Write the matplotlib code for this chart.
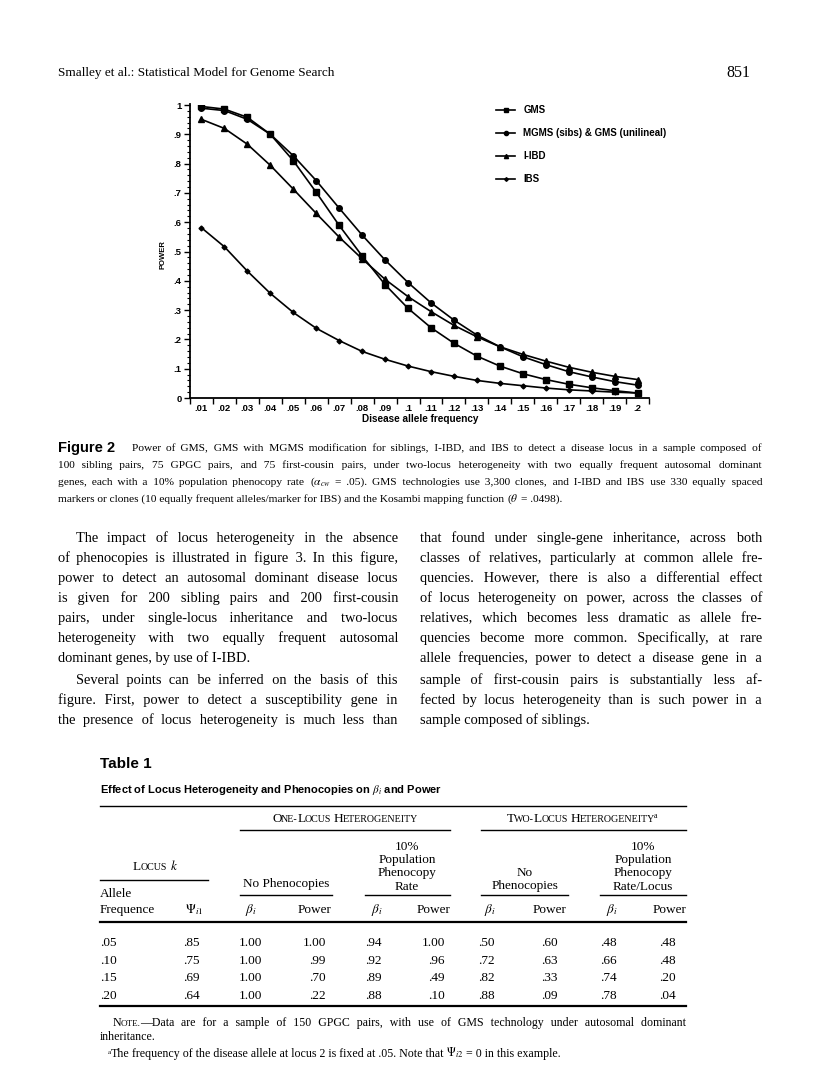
import matplotlib
matplotlib.use("Agg")
import matplotlib.pyplot as plt
import numpy as np
from matplotlib.lines import Line2D

plt.rcParams['mathtext.fontset'] = 'stix'

# ---- chart data ----
freq = [.01, .02, .03, .04, .05, .06, .07, .08, .09, .10,
        .11, .12, .13, .14, .15, .16, .17, .18, .19, .20]
freq_labels = ['.01', '.02', '.03', '.04', '.05', '.06', '.07', '.08', '.09', '.1',
               '.11', '.12', '.13', '.14', '.15', '.16', '.17', '.18', '.19', '.2']
gms = [0.995, 0.986, 0.958, 0.900, 0.810, 0.702, 0.589, 0.485, 0.387, 0.306,
       0.240, 0.187, 0.143, 0.109, 0.083, 0.063, 0.047, 0.035, 0.025, 0.017]
mgms = [0.989, 0.981, 0.951, 0.900, 0.827, 0.742, 0.648, 0.556, 0.471, 0.394,
        0.325, 0.266, 0.215, 0.175, 0.141, 0.114, 0.090, 0.072, 0.056, 0.044]
iibd = [0.951, 0.920, 0.866, 0.794, 0.713, 0.630, 0.549, 0.475, 0.405, 0.346,
        0.295, 0.248, 0.209, 0.175, 0.149, 0.126, 0.105, 0.088, 0.074, 0.063]
ibs = [0.581, 0.516, 0.433, 0.357, 0.292, 0.238, 0.196, 0.159, 0.132, 0.109,
       0.090, 0.074, 0.060, 0.050, 0.042, 0.034, 0.028, 0.024, 0.020, 0.017]
y_labels = ['0', '.1', '.2', '.3', '.4', '.5', '.6', '.7', '.8', '.9', '1']

# ---- table data ----
allele_freq = ['.05', '.10', '.15', '.20']
psi_i1 = ['.85', '.75', '.69', '.64']
beta_one_nophen = ['1.00', '1.00', '1.00', '1.00']
power_one_nophen = ['1.00', '.99', '.70', '.22']
beta_one_phen = ['.94', '.92', '.89', '.88']
power_one_phen = ['1.00', '.96', '.49', '.10']
beta_two_nophen = ['.50', '.72', '.82', '.88']
power_two_nophen = ['.60', '.63', '.33', '.09']
beta_two_phen = ['.48', '.66', '.74', '.78']
power_two_phen = ['.48', '.48', '.20', '.04']

W, H = 816, 1081
fig = plt.figure(figsize=(W / 100, H / 100), dpi=100)
fig.patch.set_facecolor('white')
R = fig.canvas.get_renderer()

SERIF = ['Liberation Serif', 'DejaVu Serif']
SANS = 'Liberation Sans'
HAIR = '\u200a'


def fx(x):
    return x / W


def fy(y):
    return 1 - y / H


def measure(s, size, family=SERIF):
    t = fig.text(0, 0, s, fontsize=size, family=family)
    w = t.get_window_extent(R).width
    t.remove()
    return w


def advance(s, size, family=SERIF):
    # advance width, side bearings included
    if '$' in s:
        return measure(s, size, family)
    return measure('x' + s + 'x', size, family) - measure('xx', size, family)


def smallcaps(word, size):
    runs = []
    for ch in word:
        if ch.isalpha():
            low = ch.islower()
            c = ch.upper() if low else ch
            sz = size * 0.76 if low else size
        else:
            c = ch
            sz = runs[-1][1] if runs else size
        if runs and runs[-1][1] == sz:
            runs[-1] = (runs[-1][0] + c, sz, 0)
        else:
            runs.append((c, sz, 0))
    return runs


def jline(x0, y, tokens, size, x1=None, ha='left', family=SERIF):
    """One line of text; tokens are words (str) or lists of (text, size, dy) runs.
    Plain words are drawn as one string; justification pads gaps with hair spaces."""
    if isinstance(tokens, str):
        tokens = tokens.split(' ')
    toks = []
    for t in tokens:
        if isinstance(t, str) and '$' not in t:
            toks.append(('plain', t))
        elif isinstance(t, str):
            toks.append(('special', [(t, size, 0)]))
        else:
            toks.append(('special', t))
    sp = measure('x x', size, family) - measure('xx', size, family)
    hw = (measure('x' + HAIR * 10 + 'x', size, family) - measure('xx', size, family)) / 10
    segs = []
    for kind, v in toks:
        if kind == 'plain' and segs and segs[-1][0] == 'plain':
            segs[-1][1].append(v)
        elif kind == 'plain':
            segs.append(['plain', [v]])
        else:
            segs.append(['special', v])
    natural = 0
    for kind, v in segs:
        if kind == 'plain':
            natural += measure(' '.join(v), size, family)
        else:
            natural += sum(advance(s, sz, family) - 0.6 for s, sz, _ in v)
    natural += sp * (len(segs) - 1)
    ngap = len(toks) - 1
    g = [0] * max(ngap, 0)
    if x1 is not None and ngap > 0:
        nh = max(0, int(round((x1 - x0 - natural) / hw)))
        g = [(nh * (i + 1)) // ngap - (nh * i) // ngap for i in range(ngap)]
    elif ha == 'center':
        x0 -= natural / 2
    elif ha == 'right':
        x0 -= natural
    yb = round(y + 0.3 * size * 100 / 72)
    cx = x0
    gi = 0
    for si, (kind, v) in enumerate(segs):
        if si > 0:
            cx += sp + g[gi] * hw
            gi += 1
        if kind == 'plain':
            s = v[0]
            for w in v[1:]:
                s += ' ' + HAIR * g[gi] + w
                gi += 1
            t = fig.text(fx(cx), fy(yb), s, fontsize=size, family=family,
                         va='baseline', ha='left')
            cx += t.get_window_extent(R).width
        else:
            for s, sz, dy in v:
                fig.text(fx(cx), fy(yb - dy), s, fontsize=sz, family=family,
                         va='baseline', ha='left')
                cx += advance(s, sz, family) - 0.6


def cell(x, y, s, size, ha='left'):
    yb = round(y + 0.3 * size * 100 / 72)
    fig.text(fx(x), fy(yb), s, fontsize=size, family=SERIF, va='baseline', ha=ha)


def hrule(x0, x1, y, lw=0.9):
    fig.add_artist(Line2D([fx(x0), fx(x1)], [fy(y), fy(y)], transform=fig.transFigure,
                          color='black', lw=lw))


# ---- running head ----
cell(58, 72, 'Smalley et al.: Statistical Model for Genome Search', 9.5)
cell(750, 72, '851', 11.5, ha='right')

# ---- chart ----
ax = fig.add_axes([fx(190), fy(398), (649 - 190) / W, (398 - 105) / H])
ax.plot(freq, gms, color='black', lw=1.2, marker='s', ms=4.5, label='GMS')
ax.plot(freq, mgms, color='black', lw=1.2, marker='o', ms=4, label='MGMS (sibs) & GMS (unilineal)')
ax.plot(freq, iibd, color='black', lw=1.2, marker='^', ms=4, label='I-IBD')
ax.plot(freq, ibs, color='black', lw=1.2, marker='D', ms=2.5, label='IBS')

ax.set_xlim(0.005, 0.205)
ax.set_ylim(0, 1.0)
ax.set_xticks(np.arange(21) * 0.01 + 0.005)
ax.set_xticklabels([])
ax.set_xticks(freq, minor=True)
ax.set_xticklabels(freq_labels, minor=True, fontsize=6.8, fontweight='bold', family=SANS)
ax.tick_params(axis='x', which='major', direction='out', length=4, width=1)
ax.tick_params(axis='x', which='minor', length=0, pad=4)
ax.set_yticks(np.arange(11) * 0.1)
ax.set_yticklabels(y_labels, fontsize=6.8, fontweight='bold', family=SANS)
ax.set_yticks(np.arange(51) * 0.02, minor=True)
ax.tick_params(axis='y', which='major', direction='out', length=4, width=1, pad=2)
ax.tick_params(axis='y', which='minor', direction='out', length=2, width=0.8)
for s in ('top', 'right'):
    ax.spines[s].set_visible(False)
for s in ('left', 'bottom'):
    ax.spines[s].set_linewidth(1.3)
ax.spines['left'].set_bounds(0, 1.005)
ax.patch.set_alpha(0)

fig.text(fx(163), fy(255), 'POWER', rotation=90, ha='center', va='center',
         fontsize=5.5, fontweight='bold', family=SANS)
fig.text(fx(420), fy(419), 'Disease allele frequency', ha='center', va='center',
         fontsize=7.2, fontweight='bold', family=SANS)

h, l = ax.get_legend_handles_labels()
fig.legend(h, l, loc='upper left', bbox_to_anchor=(fx(496), fy(105)), frameon=False,
           prop={'family': SANS, 'weight': 'bold', 'size': 7}, handlelength=2.0,
           handletextpad=0.8, labelspacing=1.35, borderaxespad=0, borderpad=0,
           markerscale=0.75)

# ---- caption ----
fig.text(fx(58), fy(452), 'Figure 2', fontsize=10.5, fontweight='bold', family=SANS,
         va='baseline')
cap = ['Power of GMS, GMS with MGMS modification for siblings, I-IBD, and IBS to detect a disease locus in a sample composed of',
       '100 sibling pairs, 75 GPGC pairs, and 75 first-cousin pairs, under two-locus heterogeneity with two equally frequent autosomal dominant',
       r'genes, each with a 10% population phenocopy rate ($\alpha_{cw}$ = .05). GMS technologies use 3,300 clones, and I-IBD and IBS use 330 equally spaced',
       r'markers or clones (10 equally frequent alleles/marker for IBS) and the Kosambi mapping function ($\theta$ = .0498).']
cap_y = [448, 465, 482, 499]
CS = 8.2
jline(132, cap_y[0], cap[0], CS, x1=762)
jline(58, cap_y[1], cap[1], CS, x1=762)
jline(58, cap_y[2], cap[2], CS, x1=762)
jline(58, cap_y[3], cap[3], CS)

# ---- body text ----
left_col = ['The impact of locus heterogeneity in the absence',
            'of phenocopies is illustrated in figure 3. In this figure,',
            'power to detect an autosomal dominant disease locus',
            'is given for 200 sibling pairs and 200 first-cousin',
            'pairs, under single-locus inheritance and two-locus',
            'heterogeneity with two equally frequent autosomal',
            'dominant genes, by use of I-IBD.',
            'Several points can be inferred on the basis of this',
            'figure. First, power to detect a susceptibility gene in',
            'the presence of locus heterogeneity is much less than']
right_col = ['that found under single-gene inheritance, across both',
             'classes of relatives, particularly at common allele fre-',
             'quencies. However, there is also a differential effect',
             'of locus heterogeneity on power, across the classes of',
             'relatives, which becomes less dramatic as allele fre-',
             'quencies become more common. Specifically, at rare',
             'allele frequencies, power to detect a disease gene in a',
             'sample of first-cousin pairs is substantially less af-',
             'fected by locus heterogeneity than is such power in a',
             'sample composed of siblings.']
body_y = [538, 558, 578, 598, 618, 638, 658, 680, 700, 720]
BS = 10.4
for i, (s, y) in enumerate(zip(left_col, body_y)):
    x0 = 76 if i in (0, 7) else 58
    jline(x0, y, s, BS, x1=None if i == 6 else 398)
for i, (s, y) in enumerate(zip(right_col, body_y)):
    jline(420, y, s, BS, x1=None if i == 9 else 762)

# ---- table ----
fig.text(fx(100), fy(768), 'Table 1', fontsize=11, fontweight='bold', family=SANS, va='baseline')
fig.text(fx(100), fy(793), r'Effect of Locus Heterogeneity and Phenocopies on $\beta_i$ and Power',
         fontsize=8, fontweight='bold', family=SANS, va='baseline')
TS = 9.5
hrule(100, 686, 806, 1.0)
jline(345, 818, [smallcaps('One-Locus', TS), smallcaps('Heterogeneity', TS)], TS, ha='center')
jline(582, 818, [smallcaps('Two-Locus', TS),
                 smallcaps('Heterogeneity', TS) + [('a', TS * 0.6, 4)]], TS, ha='center')
hrule(240, 450, 830, 1.0)
hrule(481, 686, 830, 1.0)
for cx, lines_ in ((407, ['10%', 'Population', 'Phenocopy', 'Rate']),
                   (643, ['10%', 'Population', 'Phenocopy', 'Rate/Locus'])):
    for k, s in enumerate(lines_):
        cell(cx, 846 + 13.2 * k, s, TS, ha='center')
cell(525, 872, 'No', TS, ha='center')
cell(525, 885, 'Phenocopies', TS, ha='center')
cell(286, 883, 'No Phenocopies', TS, ha='center')
jline(155, 866, [smallcaps('Locus', TS), [('$k$', TS, 0)]], TS, ha='center')
hrule(100, 208, 880, 1.0)
for a, b in ((240, 332), (365, 450), (481, 568), (600, 686)):
    hrule(a, b, 895, 1.0)
cell(100, 893, 'Allele', TS)
cell(100, 909, 'Frequence', TS)
cell(203, 909, r'$\Psi_{i1}$', TS, ha='right')
beta_x = [245, 371, 484, 606]
power_x = [331, 450, 566, 686]
for bx, px in zip(beta_x, power_x):
    cell(bx, 909, r'$\beta_i$', TS)
    cell(px, 909, 'Power', TS, ha='right')
hrule(100, 686, 922, 1.6)

row_y = [942, 960, 977, 995]
for i, y in enumerate(row_y):
    cell(100, y, allele_freq[i], TS)
    cell(200, y, psi_i1[i], TS, ha='right')
    cell(239, y, beta_one_nophen[i], TS)
    cell(326, y, power_one_nophen[i], TS, ha='right')
    cell(365, y, beta_one_phen[i], TS)
    cell(445, y, power_one_phen[i], TS, ha='right')
    cell(478, y, beta_two_nophen[i], TS)
    cell(558, y, power_two_nophen[i], TS, ha='right')
    cell(600, y, beta_two_phen[i], TS)
    cell(676, y, power_two_phen[i], TS, ha='right')
hrule(100, 686, 1006, 1.6)

NS = 8.6
note = [smallcaps('Note.', NS) + [('\u2014Data', NS, 0)]] + \
    'are for a sample of 150 GPGC pairs, with use of GMS technology under autosomal dominant'.split(' ')
jline(113, 1022, note, NS, x1=686)
cell(100, 1036, 'inheritance.', NS)
foot = [[('a', 5, 3), ('The', NS, 0)]] + \
    r'frequency of the disease allele at locus 2 is fixed at .05. Note that $\Psi_{i2}$ = 0 in this example.'.split(' ')
jline(108, 1053, foot, NS)

fig.savefig('out.png', dpi=100)
